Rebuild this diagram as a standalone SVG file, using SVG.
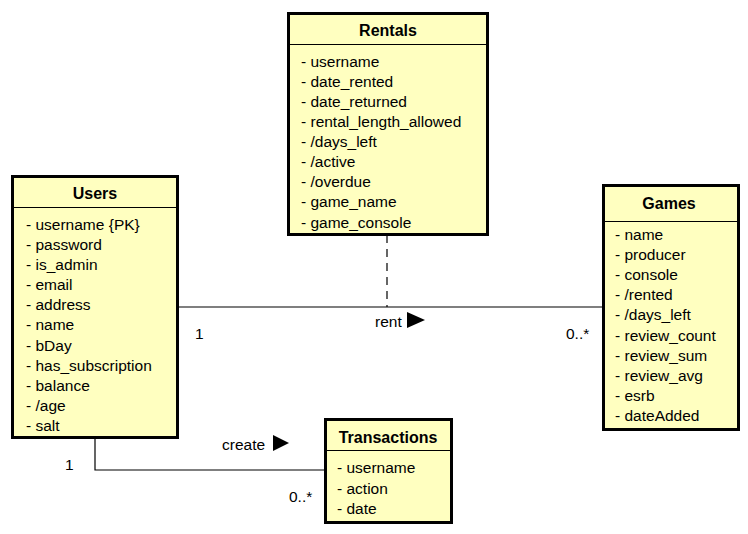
<svg xmlns="http://www.w3.org/2000/svg" width="748" height="534" viewBox="0 0 748 534">
<style>
.box{fill:#FFFFC0;stroke:#000;stroke-width:3}
.sep{stroke:#000;stroke-width:1}
.t{font-family:"Liberation Sans",Arial,sans-serif;font-size:15.5px;fill:#000}
.h{font-family:"Liberation Sans",Arial,sans-serif;font-size:16px;font-weight:bold;fill:#000;text-anchor:middle}
.ln{stroke:#000;stroke-width:1.2;fill:none}
</style>
<rect width="748" height="534" fill="#fff"/>
<g id="connectors">
<line class="ln" x1="179" y1="307" x2="602" y2="307"/>
<line class="ln" x1="387" y1="235" x2="387" y2="307" stroke-dasharray="8,6"/>
<text class="t" x="375" y="327">rent</text>
<polygon points="407,312 425,320 407,328" fill="#000"/>
<text class="t" x="195" y="339">1</text>
<text class="t" x="566" y="339">0..*</text>
<polyline class="ln" points="95,438 95,470 324,470"/>
<text class="t" x="222" y="450">create</text>
<polygon points="273,435 289,443 273,451" fill="#000"/>
<text class="t" x="65" y="470">1</text>
<text class="t" x="289" y="502">0..*</text>
</g>
<g id="rentals">
<rect class="box" x="288.5" y="13.5" width="199" height="221"/>
<line class="sep" x1="288.5" y1="44.5" x2="487.5" y2="44.5"/>
<text class="h" x="388" y="36">Rentals</text>
<text class="t" x="301" y="67">- username</text>
<text class="t" x="301" y="87">- date_rented</text>
<text class="t" x="301" y="107">- date_returned</text>
<text class="t" x="301" y="127">- rental_length_allowed</text>
<text class="t" x="301" y="147">- /days_left</text>
<text class="t" x="301" y="167">- /active</text>
<text class="t" x="301" y="187">- /overdue</text>
<text class="t" x="301" y="207">- game_name</text>
<text class="t" x="301" y="228">- game_console</text>
</g>
<g id="users">
<rect class="box" x="12.5" y="176.5" width="165" height="261"/>
<line class="sep" x1="12.5" y1="207.5" x2="177.5" y2="207.5"/>
<text class="h" x="95" y="199">Users</text>
<text class="t" x="26" y="230">- username {PK}</text>
<text class="t" x="26" y="250">- password</text>
<text class="t" x="26" y="270">- is_admin</text>
<text class="t" x="26" y="290">- email</text>
<text class="t" x="26" y="310">- address</text>
<text class="t" x="26" y="330">- name</text>
<text class="t" x="26" y="351">- bDay</text>
<text class="t" x="26" y="371">- has_subscription</text>
<text class="t" x="26" y="391">- balance</text>
<text class="t" x="26" y="411">- /age</text>
<text class="t" x="26" y="431">- salt</text>
</g>
<g id="games">
<rect class="box" x="603.5" y="185.5" width="135" height="244"/>
<line class="sep" x1="603.5" y1="221.5" x2="738.5" y2="221.5"/>
<text class="h" x="669" y="209">Games</text>
<text class="t" x="615" y="240">- name</text>
<text class="t" x="615" y="260">- producer</text>
<text class="t" x="615" y="280">- console</text>
<text class="t" x="615" y="300">- /rented</text>
<text class="t" x="615" y="320">- /days_left</text>
<text class="t" x="615" y="341">- review_count</text>
<text class="t" x="615" y="361">- review_sum</text>
<text class="t" x="615" y="381">- review_avg</text>
<text class="t" x="615" y="401">- esrb</text>
<text class="t" x="615" y="421">- dateAdded</text>
</g>
<g id="transactions">
<rect class="box" x="325.5" y="419.5" width="126" height="103"/>
<line class="sep" x1="325.5" y1="450.5" x2="451.5" y2="450.5"/>
<text class="h" x="388" y="443">Transactions</text>
<text class="t" x="337" y="473">- username</text>
<text class="t" x="337" y="494">- action</text>
<text class="t" x="337" y="514">- date</text>
</g>
</svg>
